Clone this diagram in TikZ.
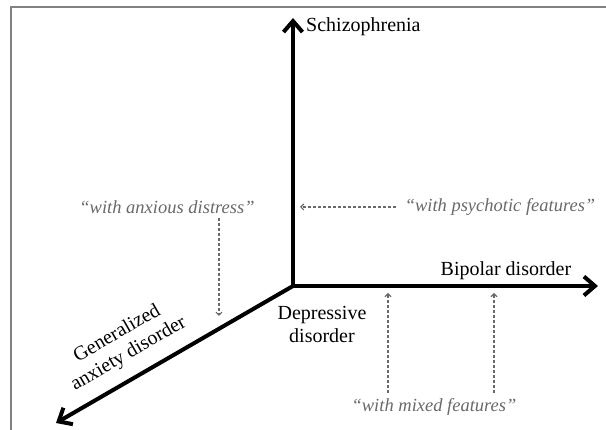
\documentclass[tikz,border=0pt]{standalone}
\usepackage{fontspec}
\setmainfont{Liberation Serif}
\usetikzlibrary{arrows.meta}
\definecolor{hintgray}{RGB}{105,105,105}
\definecolor{framegray}{RGB}{130,130,130}
\tikzset{
  axis/.style={line width=4pt,-{Straight Barb[length=11pt,width=19pt]}},
  hint/.style={hintgray,line width=1.1pt,dash pattern=on 3pt off 2pt,
    -{Straight Barb[length=3pt,width=6pt]}},
  disname/.style={font=\fontsize{20}{23}\selectfont,align=center,inner sep=2pt},
  spec/.style={hintgray,font=\fontsize{18.5}{22}\selectfont\itshape,inner sep=2pt}
}
\begin{document}
\begin{tikzpicture}[x=1pt,y=1pt]
  \useasboundingbox (0,0) rectangle (606,430);
  \draw[framegray,line width=1.6pt] (11,0) -- (11,423) -- (606,423);
  % the three axes
  \coordinate (O) at (293,144);
  \coordinate (top) at (293,412);
  \coordinate (right) at (598,144);
  \coordinate (diag) at (56,7);
  \draw[axis] (O) -- (top);
  \draw[axis] (O) -- (right);
  \draw[axis] (O) -- (diag);
  \node[disname,anchor=west] (schizo) at (304,403) {Schizophrenia};
  \node[disname] (bipolar) at (506,159) {Bipolar disorder};
  \node[disname] (depress) at (322,106) {Depressive\\disorder};
  \node[disname,rotate=30] (gad) at (123,86) {Generalized\\anxiety disorder};
  % specifiers
  \node[spec] (anx) at (167,223) {``with anxious distress''};
  \node[spec] (psy) at (500,223) {``with psychotic features''};
  \node[spec] (mix) at (434,23) {``with mixed features''};
  \coordinate (anxend) at (219,114);
  \coordinate (mixa) at (388,144);
  \coordinate (mixb) at (494,144);
  \draw[hint,shorten <=2pt] (anx.south -| anxend) -- (anxend);
  \draw[hint,shorten <=7pt,shorten >=7pt] (psy.west) -- (psy.west -| O);
  \draw[hint,shorten <=3pt,shorten >=7pt] (mix.north -| mixa) -- (mixa);
  \draw[hint,shorten <=3pt,shorten >=7pt] (mix.north -| mixb) -- (mixb);
\end{tikzpicture}
\end{document}
